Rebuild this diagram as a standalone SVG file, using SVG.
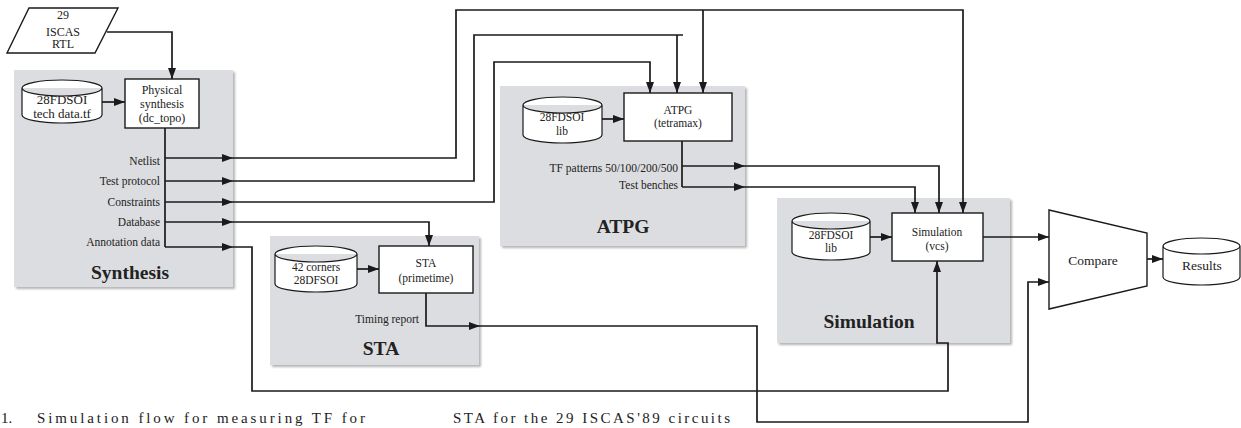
<svg xmlns="http://www.w3.org/2000/svg" width="1241" height="428" viewBox="0 0 1241 428">
<style>
.panel{fill:#dcdde0;filter:url(#sh)}
.box{fill:#fff;stroke:#1a1a1a;stroke-width:1.4}
.cyl{fill:#fff;stroke:#1a1a1a;stroke-width:1.2}
.ln{fill:none;stroke:#1a1a1a;stroke-width:1.7}
.ar{marker-end:url(#ah)}
text{font-family:"Liberation Serif","Times New Roman",serif;fill:#222}
.t{font-size:11.5px;text-anchor:middle}
.t12{font-size:12px;text-anchor:middle}
.lbl{font-size:11.5px;text-anchor:end}
.ttl{font-size:19.5px;font-weight:bold;text-anchor:middle}
.big{font-size:13.5px;text-anchor:middle}
.cap{font-size:15px}
</style>
<defs>
<filter id="sh" x="-5%" y="-5%" width="112%" height="112%">
<feDropShadow dx="2" dy="2" stdDeviation="1.3" flood-color="#777" flood-opacity="0.55"/>
</filter>
<marker id="ah" viewBox="0 0 11 8" refX="11" refY="4" markerWidth="11" markerHeight="8" markerUnits="userSpaceOnUse" orient="auto">
<path d="M0,0 L11,4 L0,8 z" fill="#1a1a1a"/>
</marker>
</defs>

<g id="panels">
<rect class="panel" x="14" y="70" width="219" height="217"/>
<rect class="panel" x="500" y="86" width="245" height="160"/>
<rect class="panel" x="270" y="236" width="209" height="129"/>
<rect class="panel" x="777" y="198" width="233" height="145"/>
<text class="ttl" x="130" y="279">Synthesis</text>
<text class="ttl" x="623" y="233">ATPG</text>
<text class="ttl" x="381" y="355">STA</text>
<text class="ttl" x="869" y="328">Simulation</text>
</g>

<g id="connectors">
<path class="ln ar" d="M107,32 H172 V79"/>
<path class="ln ar" d="M102,102 H125"/>
<path class="ln" d="M165,128 V247"/>
<path class="ln ar" d="M165,158 H233"/>
<path class="ln ar" d="M233,158 H456 V10 H963 V213"/>
<path class="ln ar" d="M703,10 V93"/>
<path class="ln ar" d="M165,181 H233"/>
<path class="ln ar" d="M233,181 H474 V35 H683 M677,35 V93"/>
<path class="ln ar" d="M165,202 H233"/>
<path class="ln ar" d="M233,202 H494 V62 H650 V93"/>
<path class="ln ar" d="M165,222 H233"/>
<path class="ln ar" d="M233,222 H429 V246"/>
<path class="ln ar" d="M165,247 H233"/>
<path class="ln ar" d="M233,247 H252 V391 H948 V343 H937 V261"/>
<path class="ln ar" d="M602,119 H624"/>
<path class="ln" d="M682,141 V187"/>
<path class="ln ar" d="M682,166 H745"/>
<path class="ln ar" d="M745,166 H939 V213"/>
<path class="ln ar" d="M682,187 H745"/>
<path class="ln ar" d="M745,187 H915 V213"/>
<path class="ln ar" d="M357,269 H379"/>
<path class="ln ar" d="M426,293 V326 H480"/>
<path class="ln ar" d="M480,326 H757 V422 H1028 V282 H1049"/>
<path class="ln ar" d="M870,237 H892"/>
<path class="ln ar" d="M983,237 H1049"/>
<path class="ln ar" d="M1147,259 H1163"/>
</g>

<g id="rtl">
<polygon class="box" points="29,8 118,8 95,53 7,53"/>
<text class="t12" x="63" y="19">29</text>
<text class="t12" x="63" y="36">ISCAS</text>
<text class="t12" x="63" y="48">RTL</text>
</g>

<g id="tech-data">
<path class="cyl" d="M22,88 A40,8 0 0 1 102,88 V115 A40,8 0 0 1 22,115 Z M22,88 A40,8 0 0 0 102,88"/>
<text font-size="13px" text-anchor="middle" x="62" y="104">28FDSOI</text>
<text font-size="13px" text-anchor="middle" x="62" y="118">tech data.tf</text>
</g>

<g id="phys-synth">
<rect class="box" x="125" y="79" width="74" height="49"/>
<text class="t12" x="162" y="94">Physical</text>
<text class="t12" x="162" y="108">synthesis</text>
<text class="t12" x="162" y="122">(dc_topo)</text>
</g>

<g id="synth-labels">
<text class="lbl" x="160" y="165">Netlist</text>
<text class="lbl" x="160" y="185">Test protocol</text>
<text class="lbl" x="160" y="206">Constraints</text>
<text class="lbl" x="160" y="226">Database</text>
<text class="lbl" x="160" y="246">Annotation data</text>
</g>

<g id="atpg-lib">
<path class="cyl" d="M523,105 A39.5,8 0 0 1 602,105 V135 A39.5,8 0 0 1 523,135 Z M523,105 A39.5,8 0 0 0 602,105"/>
<text class="t" x="562" y="121">28FDSOI</text>
<text class="t" x="562" y="135">lib</text>
</g>

<g id="atpg">
<rect class="box" x="624" y="93" width="108" height="48"/>
<text class="t" x="678" y="114">ATPG</text>
<text class="t" x="678" y="127">(tetramax)</text>
<text class="lbl" x="678" y="172">TF patterns 50/100/200/500</text>
<text class="lbl" x="678" y="189">Test benches</text>
</g>

<g id="sta-lib">
<path class="cyl" d="M275,254 A41,8 0 0 1 357,254 V284 A41,8 0 0 1 275,284 Z M275,254 A41,8 0 0 0 357,254"/>
<text class="t" x="316" y="271">42 corners</text>
<text class="t" x="316" y="284">28DFSOI</text>
</g>

<g id="sta">
<rect class="box" x="379" y="246" width="94" height="47"/>
<text class="t" x="426" y="267">STA</text>
<text class="t" x="426" y="282">(primetime)</text>
<text class="lbl" x="419" y="323">Timing report</text>
</g>

<g id="sim-lib">
<path class="cyl" d="M792,221 A39,8 0 0 1 870,221 V252 A39,8 0 0 1 792,252 Z M792,221 A39,8 0 0 0 870,221"/>
<text class="t" x="831" y="239">28FDSOI</text>
<text class="t" x="831" y="252">lib</text>
</g>

<g id="simulation">
<rect class="box" x="892" y="213" width="91" height="48"/>
<text class="t" x="937" y="236">Simulation</text>
<text class="t" x="937" y="250">(vcs)</text>
</g>

<g id="compare">
<polygon class="box" points="1049,210 1147,233 1147,286 1049,309"/>
<text class="big" x="1093" y="265">Compare</text>
</g>

<g id="results">
<path class="cyl" d="M1163,246 A38.5,8 0 0 1 1240,246 V277 A38.5,8 0 0 1 1163,277 Z M1163,246 A38.5,8 0 0 0 1240,246"/>
<text class="big" x="1202" y="270">Results</text>
</g>

<g id="caption">
<text class="cap" x="1" y="423">1.</text>
<text class="cap" x="37" y="423" textLength="328" lengthAdjust="spacing">Simulation flow for measuring TF for</text>
<text class="cap" x="453" y="423" textLength="277" lengthAdjust="spacing">STA for the 29 ISCAS'89 circuits</text>
</g>
</svg>
